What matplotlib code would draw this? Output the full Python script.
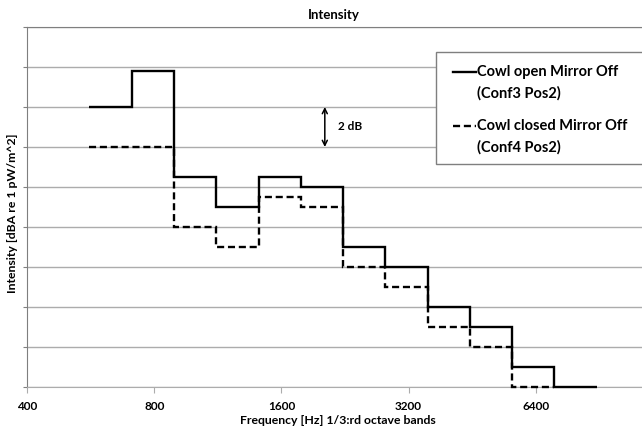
import matplotlib
matplotlib.use("Agg")
import matplotlib.pyplot as plt
from matplotlib.lines import Line2D
from matplotlib.patches import Rectangle

# 1/3-octave band edges [Hz]
band_edges = [561, 707, 891, 1122, 1413, 1778, 2239, 2818, 3548, 4467, 5623, 7079, 8913]
# relative intensity levels per band [dB], no absolute scale on the chart
open_levels = [14.0, 15.8, 10.5, 9.0, 10.5, 10.0, 7.0, 6.0, 4.0, 3.0, 1.0, 0.0]
closed_levels = [12.0, 12.0, 8.0, 7.0, 9.5, 9.0, 6.0, 5.0, 3.0, 2.0, 0.0]
closed_edges = band_edges[:len(closed_levels) + 1]

x_ticks = [400, 800, 1600, 3200, 6400]
y_grid = list(range(0, 20, 2))
labels = ["Cowl open Mirror Off", "(Conf3 Pos2)", "Cowl closed Mirror Off", "(Conf4 Pos2)"]

plt.rcParams["font.family"] = ["Lato", "DejaVu Sans"]
plt.rcParams["font.weight"] = "bold"

W, H = 642, 430
fig = plt.figure(figsize=(W / 100, H / 100), dpi=100)
ax = fig.add_axes([27 / W, 1 - 387 / H, (663 - 27) / W, (387 - 27) / H])

ax.stairs(open_levels, band_edges, baseline=None, color="black", lw=1.7, clip_on=False, zorder=3)
ax.stairs(closed_levels, closed_edges, baseline=None, color="black", lw=1.7,
          ls=(0, (3, 1.6)), clip_on=False, zorder=3)

ax.set_xscale("log")
ax.set_xlim(400, 12800)
ax.set_ylim(0, 18)
ax.set_xticks(x_ticks, [str(t) for t in x_ticks])
ax.minorticks_off()
ax.set_yticks(y_grid, [""] * len(y_grid))
ax.yaxis.grid(True, color="#acacac", lw=1)
ax.tick_params(axis="y", direction="out", length=3, color="#808080")
ax.tick_params(axis="x", direction="out", length=4, color="#acacac", labelsize=8.5, pad=6)
for lab in ax.get_xticklabels():
    lab.set_fontweight("bold")
ax.spines["left"].set_color("#7f7f7f")
ax.spines["top"].set_color("#7f7f7f")
ax.spines["bottom"].set_color("#acacac")
ax.spines["right"].set_visible(False)
ax.set_axisbelow(True)

# 2 dB scale marker
ax.annotate("", xy=(2027, 14), xytext=(2027, 12),
            arrowprops=dict(arrowstyle="<->", lw=1.1, color="black", shrinkA=0, shrinkB=0,
                            mutation_scale=9))
ax.text(2180, 13.0, "2 dB", fontsize=8.5, fontweight="bold", va="center")

fig.text(334 / W, 1 - 15 / H, "Intensity", ha="center", va="center", fontsize=9.5, fontweight="bold")
fig.text(338 / W, 1 - 421 / H, "Frequency [Hz] 1/3:rd octave bands", ha="center", va="center",
         fontsize=8.8, fontweight="bold")
fig.text(13 / W, 1 - 213 / H, "Intensity [dBA re 1 pW/m^2]", ha="center", va="center",
         rotation=90, fontsize=8.8, fontweight="bold")

# legend drawn by hand so the sample line sits on the first text line
fig.add_artist(Rectangle((436 / W, 1 - 164 / H), 230 / W, 112 / H, transform=fig.transFigure,
                         facecolor="white", edgecolor="#7f7f7f", lw=1, zorder=5))
fig.add_artist(Line2D([453 / W, 476 / W], [1 - 72 / H] * 2, color="black", lw=1.7, zorder=6))
fig.add_artist(Line2D([453 / W, 476 / W], [1 - 126 / H] * 2, color="black", lw=1.7,
                      ls=(0, (3, 1.6)), zorder=6))
for txt, yp in zip(labels, [72, 93, 126, 147]):
    fig.text(477 / W, 1 - yp / H, txt, fontsize=10.5, fontweight="bold", va="center", zorder=6)

fig.savefig("out.png", dpi=100)
